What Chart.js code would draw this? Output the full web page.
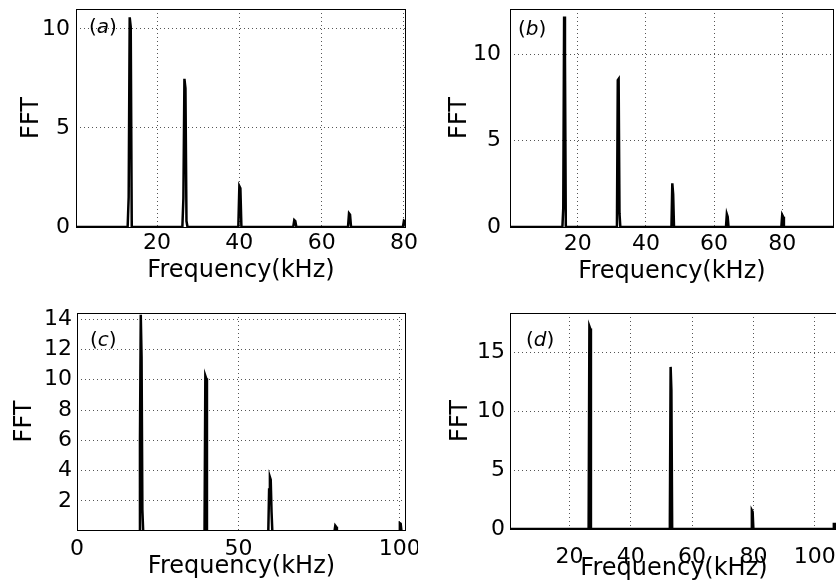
<!DOCTYPE html>
<html>
<head>
<meta charset="utf-8">
<script src="https://cdn.jsdelivr.net/npm/chart.js@4/dist/chart.umd.min.js"></script>
<style>
html,body{margin:0;padding:0;background:#fff;width:836px;height:587px;overflow:hidden;}
.panel{position:absolute;}
</style>
</head>
<body>
<div class="panel" style="left:0;top:0"><canvas id="cA" width="418" height="290"></canvas></div>
<div class="panel" style="left:418px;top:0"><canvas id="cB" width="418" height="290"></canvas></div>
<div class="panel" style="left:0;top:290px"><canvas id="cC" width="418" height="297"></canvas></div>
<div class="panel" style="left:418px;top:290px"><canvas id="cD" width="430" height="297"></canvas></div>
<script>
const FONT = '"DejaVu Sans", sans-serif';

// === Data (frequency in kHz, FFT amplitude) ===
const freqA = [0.3, 12.85,13.1,13.35,13.6,13.85, 26.15,26.4,26.65,26.9,27.15,27.4, 39.75,40.0,40.25,40.5,
               53.1,53.35,53.6,53.85, 66.4,66.65,66.9,67.15, 79.75,80.0,80.25,80.5];
const fftA  = [0, 0,1.5,10.58,10.1,0, 0,1.45,7.48,7.0,0.3,0, 0,2.06,1.95,0,
               0,0.35,0.3,0, 0,0.69,0.62,0, 0,0.32,0.28,0];
const xTicksA = [20,40,60,80];
const yTicksA = [0,5,10];

const freqB = [0.12, 15.5,15.75,16.0,16.25,16.5, 31.5,31.75,32.0,32.25,32.5, 47.5,47.75,48.0,48.25,
               63.5,63.75,64.0,64.25, 79.75,80.0,80.25,80.5, 95.2];
const fftB  = [0, 0,1.1,12.18,9.77,0, 0,8.5,8.57,0.8,0, 0,2.53,1.9,0,
               0,0.75,0.6,0, 0,0.7,0.6,0, 0];
const xTicksB = [20,40,60,80];
const yTicksB = [0,5,10];

const freqC = [0, 19.25,19.5,19.75,20.0,20.25,20.5, 39.5,39.75,40.0,40.25, 59.25,59.5,59.75,60.0,60.25,60.5,
               79.75,80.0,80.25,80.5, 99.75,100.0,100.25,100.5, 101.9];
const fftC  = [0, 0,5.9,14.29,11.5,1.4,0, 0,10.26,10.1,0, 0,2.75,3.57,3.4,1.3,0,
               0,0.37,0.3,0, 0,0.53,0.5,0, 0];
const xTicksC = [0,50,100];
const yTicksC = [2,4,6,8,10,12,14];

const freqD = [0.6, 26.25,26.5,26.75,27.0, 52.5,52.75,53.0,53.25,53.5, 79.25,79.5,79.75,80.0,
               106.0,106.25,106.75,107.0, 107.6];
const fftD  = [0, 0,17.23,17.05,0, 0,0.8,13.78,11.8,0, 0,1.58,1.45,0,
               0,0.42,0.42,0, 0];
const xTicksD = [20,40,60,80,100];
const yTicksD = [0,5,10,15];

// === Panel layout ===
const panels = [
  {id:'cA', tag:'a', freq:freqA, fft:fftA, xTicks:xTicksA, yTicks:yTicksA, xMin:0.3, xMax:80.5, yMin:0, yMax:11,
   h:290, left:76, padR:12, top:9, bottom:227, yPad:6, yTitlePad:17, xPad:3, xTitlePad:5, tagDx:13, tagDy:19},
  {id:'cB', tag:'b', freq:freqB, fft:fftB, xTicks:xTicksB, yTicks:yTicksB, xMin:0.12, xMax:95.2, yMin:0, yMax:12.62,
   h:290, left:92, padR:2, top:9, bottom:227, yPad:9, yTitlePad:27, xPad:4, xTitlePad:4, tagDx:8, tagDy:21},
  {id:'cC', tag:'c', freq:freqC, fft:fftC, xTicks:xTicksC, yTicks:yTicksC, xMin:0, xMax:101.9, yMin:0.085, yMax:14.4,
   h:297, left:77, padR:12, top:23, bottom:240, yPad:5, yTitlePad:10, xPad:6, xTitlePad:6, tagDx:13, tagDy:28},
  {id:'cD', tag:'d', freq:freqD, fft:fftD, xTicks:xTicksD, yTicks:yTicksD, xMin:0.6, xMax:107.6, yMin:0, yMax:18.36,
   h:297, left:92, padR:10, top:23, bottom:239, yPad:5, yTitlePad:28, xPad:15, xTitlePad:4, tagDx:16, tagDy:28}
];

// box around plot + (a)/(b)... tag
const panelBox = {
  id:'panelBox',
  afterDatasetsDraw(chart, args, o){
    const {ctx, chartArea:a} = chart;
    ctx.save();
    ctx.strokeStyle='#000'; ctx.lineWidth=1;
    const l=Math.round(a.left), t=Math.round(a.top);
    ctx.strokeRect(l+0.5, t+0.5, Math.round(a.right)-l-1, Math.round(a.bottom)-t);
    ctx.fillStyle='#000'; ctx.textBaseline='middle';
    let x=a.left+o.dx; const y=a.top+o.dy;
    [['(',''],[o.tag,'italic '],[')','']].forEach(([txt,st])=>{
      ctx.font=st+'20px '+FONT;
      ctx.fillText(txt,x,y);
      x+=ctx.measureText(txt).width;
    });
    ctx.restore();
  }
};

function makeChart(p){
  const grid = {color:'#555', drawTicks:false, lineWidth:1};
  const border = {display:false, dash:[1,3]};
  return new Chart(document.getElementById(p.id), {
    type:'line',
    data:{datasets:[{
      data:p.freq.map((f,i)=>({x:f,y:p.fft[i]})),
      borderColor:'#000', borderWidth:2.5, pointRadius:0, tension:0, fill:false
    }]},
    options:{
      responsive:false, animation:false, events:[],
      layout:{padding:{left:0,right:p.padR,top:p.top,bottom:0}},
      plugins:{legend:{display:false}, tooltip:{enabled:false},
               panelBox:{tag:p.tag, dx:p.tagDx, dy:p.tagDy}},
      scales:{
        x:{type:'linear', min:p.xMin, max:p.xMax,
          afterBuildTicks:s=>{ s.ticks=p.xTicks.map(v=>({value:v})); },
          afterFit:s=>{ s.height=p.h-p.bottom; s.paddingLeft=0; s.paddingRight=0; },
          grid, border,
          ticks:{color:'#000', font:{family:FONT,size:22}, padding:p.xPad, autoSkip:false, maxRotation:0},
          title:{display:true, text:'Frequency(kHz)', color:'#000', font:{family:FONT,size:24},
                 padding:{top:0,bottom:p.xTitlePad}}},
        y:{type:'linear', min:p.yMin, max:p.yMax,
          afterBuildTicks:s=>{ s.ticks=p.yTicks.map(v=>({value:v})); },
          afterFit:s=>{ s.width=p.left; s.paddingTop=0; s.paddingBottom=0; },
          grid, border,
          ticks:{color:'#000', font:{family:FONT,size:22}, padding:p.yPad, autoSkip:false},
          title:{display:true, text:'FFT', color:'#000', font:{family:FONT,size:24},
                 padding:{top:p.yTitlePad,bottom:0}}}
      }
    },
    plugins:[panelBox]
  });
}

panels.forEach(makeChart);
</script>
</body>
</html>
